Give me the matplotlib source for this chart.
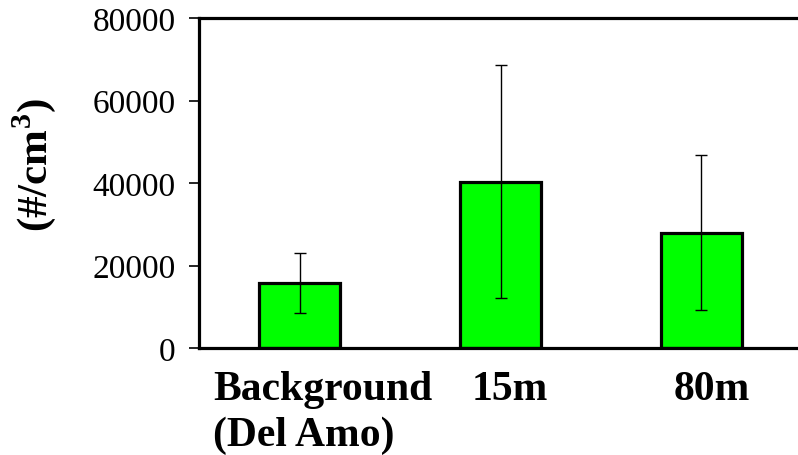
import matplotlib.pyplot as plt
import matplotlib.transforms as mtransforms

# data
sites = ['Background\n(Del Amo)', '15m', '80m']
conc = [15800, 40300, 28000]
err = [7300, 28200, 18800]
yticks = [0, 20000, 40000, 60000, 80000]

plt.rcParams['font.family'] = ['Liberation Serif', 'DejaVu Serif']
plt.rcParams['mathtext.fontset'] = 'custom'
plt.rcParams['mathtext.rm'] = 'Liberation Serif'
plt.rcParams['mathtext.bf'] = 'Liberation Serif:bold'

fig = plt.figure(figsize=(7.98, 4.56), dpi=100)
ax = fig.add_axes([0.2494, 0.2346, 0.7556, 0.7237])

x = range(len(sites))
ax.bar(x, conc, width=0.4, color='#00ff00', edgecolor='black', linewidth=2.3, zorder=2)
ax.errorbar(x, conc, yerr=err, fmt='none', ecolor='black', elinewidth=1.0,
            capsize=4.5, capthick=1.0, zorder=3)

ax.set_xlim(-0.5, 2.5)
ax.set_ylim(0, 80000)
ax.set_yticks(yticks)
ax.set_yticklabels([str(v) for v in yticks], fontsize=24)
ax.tick_params(axis='y', direction='out', length=7, width=1.2, pad=10)
ax.tick_params(axis='x', length=0, pad=15.5)

ax.set_xticks(list(x))
labels = ax.set_xticklabels(sites, fontsize=30, fontweight='bold', multialignment='left',
                            va='top', linespacing=1.27)
shifts = [23, 9, 10]
for lab, s in zip(labels, shifts):
    lab.set_transform(lab.get_transform() + mtransforms.ScaledTranslation(s / 100, 0, fig.dpi_scale_trans))

for sp in ax.spines.values():
    sp.set_linewidth(2.3)
ax.spines['right'].set_visible(False)

fig.text(0.043, 0.638, '(#/cm$^\\mathbf{3}$)', rotation=90, fontsize=31, fontweight='bold',
         ha='center', va='center')

fig.savefig('out.png', dpi=100)
